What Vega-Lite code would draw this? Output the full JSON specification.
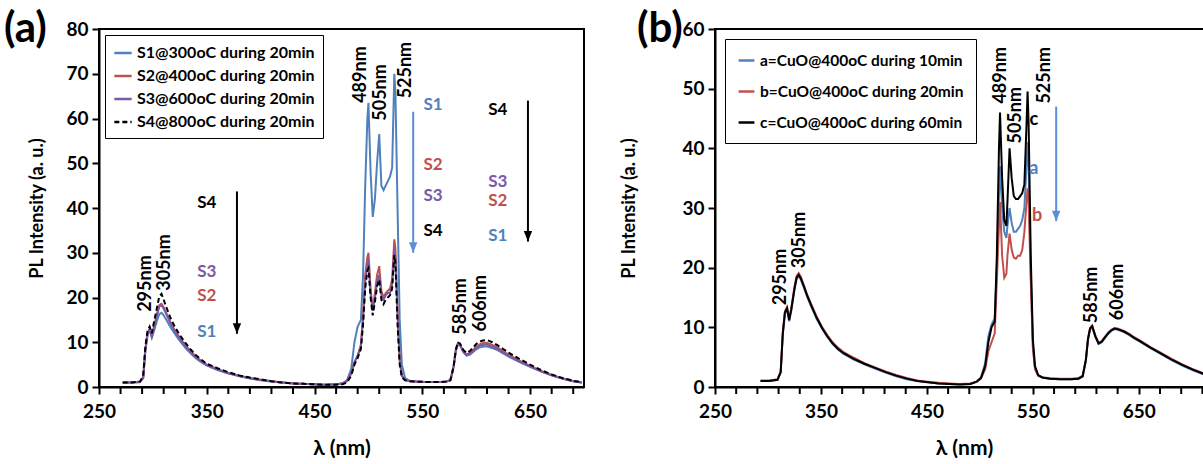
{
"$schema":"https://vega.github.io/schema/vega-lite/v6.json",
"padding":{"left":3,"top":7,"right":0,"bottom":2},
"background":"white",
"spacing":32,
"resolve":{"scale":{"color":"independent","strokeDash":"independent"},"legend":{"color":"independent","strokeDash":"independent"}},
"config":{
 "font":"Lato",
 "view":{"stroke":"black","strokeWidth":2},
 "axis":{"grid":false,"domainColor":"black","domainWidth":2,"tickColor":"black","tickWidth":2,"tickSize":7,"labelFont":"Lato","labelFontWeight":"bold","labelFontSize":19,"labelColor":"black","titleFont":"Lato","titleFontWeight":"bold","titleFontSize":18,"titleColor":"black","labelOverlap":false,"labelFlush":false},
 "legend":{"symbolType":"stroke","labelFont":"Lato","labelFontWeight":"bold","labelColor":"black","strokeColor":"black","fillColor":"white","symbolStrokeWidth":2.5,"labelLimit":400},
 "title":{"font":"Lato","fontWeight":"bold","color":"black","fontSize":42}
},
"datasets":{
"specA":[
{"series":"S1","nm":272,"pl":1.0},{"series":"S1","nm":280,"pl":1.0},{"series":"S1","nm":288,"pl":1.1},{"series":"S1","nm":291,"pl":2.0},{"series":"S1","nm":293,"pl":8.0},{"series":"S1","nm":295,"pl":11.5},{"series":"S1","nm":297,"pl":12.8},{"series":"S1","nm":299,"pl":11.0},{"series":"S1","nm":301,"pl":12.5},{"series":"S1","nm":304,"pl":15.0},
{"series":"S1","nm":306,"pl":16.3},{"series":"S1","nm":308,"pl":16.6},{"series":"S1","nm":310,"pl":16.0},{"series":"S1","nm":313,"pl":14.8},{"series":"S1","nm":316,"pl":13.5},{"series":"S1","nm":320,"pl":12.0},{"series":"S1","nm":325,"pl":10.3},{"series":"S1","nm":330,"pl":8.8},{"series":"S1","nm":335,"pl":7.5},{"series":"S1","nm":340,"pl":6.4},
{"series":"S1","nm":345,"pl":5.5},{"series":"S1","nm":350,"pl":4.8},{"series":"S1","nm":360,"pl":3.8},{"series":"S1","nm":370,"pl":3.0},{"series":"S1","nm":380,"pl":2.4},{"series":"S1","nm":390,"pl":1.9},{"series":"S1","nm":400,"pl":1.5},{"series":"S1","nm":410,"pl":1.2},{"series":"S1","nm":420,"pl":1.0},{"series":"S1","nm":430,"pl":0.8},
{"series":"S1","nm":440,"pl":0.7},{"series":"S1","nm":450,"pl":0.6},{"series":"S1","nm":460,"pl":0.5},{"series":"S1","nm":470,"pl":0.6},{"series":"S1","nm":476,"pl":0.8},{"series":"S1","nm":480,"pl":1.5},{"series":"S1","nm":484,"pl":4.0},{"series":"S1","nm":487,"pl":10.0},{"series":"S1","nm":490,"pl":13.5},{"series":"S1","nm":493,"pl":15.0},
{"series":"S1","nm":495,"pl":25},{"series":"S1","nm":497,"pl":45},{"series":"S1","nm":499,"pl":60},{"series":"S1","nm":500,"pl":63.5},{"series":"S1","nm":502,"pl":48},{"series":"S1","nm":504,"pl":38},{"series":"S1","nm":506,"pl":42},{"series":"S1","nm":508,"pl":50},{"series":"S1","nm":510,"pl":56.5},{"series":"S1","nm":512,"pl":45},
{"series":"S1","nm":514,"pl":44},{"series":"S1","nm":516,"pl":45},{"series":"S1","nm":518,"pl":46},{"series":"S1","nm":520,"pl":47},{"series":"S1","nm":522,"pl":49},{"series":"S1","nm":524,"pl":70},{"series":"S1","nm":525,"pl":66},{"series":"S1","nm":527,"pl":40},{"series":"S1","nm":529,"pl":15},{"series":"S1","nm":531,"pl":5},
{"series":"S1","nm":534,"pl":2.0},{"series":"S1","nm":538,"pl":1.4},{"series":"S1","nm":545,"pl":1.2},{"series":"S1","nm":555,"pl":1.1},{"series":"S1","nm":565,"pl":1.1},{"series":"S1","nm":572,"pl":1.2},{"series":"S1","nm":576,"pl":1.5},{"series":"S1","nm":579,"pl":4.5},{"series":"S1","nm":581,"pl":8.0},{"series":"S1","nm":583,"pl":9.6},
{"series":"S1","nm":585,"pl":9.3},{"series":"S1","nm":588,"pl":7.8},{"series":"S1","nm":591,"pl":7.0},{"series":"S1","nm":594,"pl":7.2},{"series":"S1","nm":597,"pl":7.8},{"series":"S1","nm":600,"pl":8.4},{"series":"S1","nm":603,"pl":8.8},{"series":"S1","nm":606,"pl":9.0},{"series":"S1","nm":609,"pl":9.1},{"series":"S1","nm":612,"pl":8.9},
{"series":"S1","nm":615,"pl":8.7},{"series":"S1","nm":620,"pl":8.2},{"series":"S1","nm":625,"pl":7.5},{"series":"S1","nm":630,"pl":6.8},{"series":"S1","nm":640,"pl":5.6},{"series":"S1","nm":650,"pl":4.5},{"series":"S1","nm":660,"pl":3.5},{"series":"S1","nm":670,"pl":2.6},{"series":"S1","nm":680,"pl":1.9},{"series":"S1","nm":690,"pl":1.3},
{"series":"S1","nm":698,"pl":1.0},
{"series":"S2","nm":272,"pl":1.0},{"series":"S2","nm":280,"pl":1.0},{"series":"S2","nm":288,"pl":1.2},{"series":"S2","nm":291,"pl":2.2},{"series":"S2","nm":293,"pl":8.5},{"series":"S2","nm":295,"pl":12.0},{"series":"S2","nm":297,"pl":13.0},{"series":"S2","nm":299,"pl":11.5},{"series":"S2","nm":301,"pl":13.5},{"series":"S2","nm":304,"pl":16.5},
{"series":"S2","nm":306,"pl":18.3},{"series":"S2","nm":308,"pl":18.6},{"series":"S2","nm":310,"pl":17.8},{"series":"S2","nm":313,"pl":16.2},{"series":"S2","nm":316,"pl":14.6},{"series":"S2","nm":320,"pl":12.8},{"series":"S2","nm":325,"pl":11.0},{"series":"S2","nm":330,"pl":9.4},{"series":"S2","nm":335,"pl":8.0},{"series":"S2","nm":340,"pl":6.8},
{"series":"S2","nm":345,"pl":5.8},{"series":"S2","nm":350,"pl":5.0},{"series":"S2","nm":360,"pl":4.0},{"series":"S2","nm":370,"pl":3.1},{"series":"S2","nm":380,"pl":2.5},{"series":"S2","nm":390,"pl":2.0},{"series":"S2","nm":400,"pl":1.6},{"series":"S2","nm":410,"pl":1.3},{"series":"S2","nm":420,"pl":1.0},{"series":"S2","nm":430,"pl":0.8},
{"series":"S2","nm":440,"pl":0.7},{"series":"S2","nm":450,"pl":0.6},{"series":"S2","nm":460,"pl":0.5},{"series":"S2","nm":470,"pl":0.6},{"series":"S2","nm":476,"pl":0.8},{"series":"S2","nm":480,"pl":1.3},{"series":"S2","nm":484,"pl":3.0},{"series":"S2","nm":487,"pl":5.5},{"series":"S2","nm":490,"pl":7.0},{"series":"S2","nm":493,"pl":9.5},
{"series":"S2","nm":495,"pl":16},{"series":"S2","nm":497,"pl":25},{"series":"S2","nm":499,"pl":29},{"series":"S2","nm":500,"pl":30},{"series":"S2","nm":502,"pl":22},{"series":"S2","nm":504,"pl":17},{"series":"S2","nm":506,"pl":21},{"series":"S2","nm":508,"pl":25},{"series":"S2","nm":510,"pl":27},{"series":"S2","nm":512,"pl":21.5},
{"series":"S2","nm":514,"pl":20},{"series":"S2","nm":516,"pl":21},{"series":"S2","nm":518,"pl":21.5},{"series":"S2","nm":520,"pl":22},{"series":"S2","nm":522,"pl":24},{"series":"S2","nm":524,"pl":33},{"series":"S2","nm":525,"pl":31},{"series":"S2","nm":527,"pl":17},{"series":"S2","nm":529,"pl":6},{"series":"S2","nm":531,"pl":2.5},
{"series":"S2","nm":534,"pl":1.6},{"series":"S2","nm":538,"pl":1.3},{"series":"S2","nm":545,"pl":1.2},{"series":"S2","nm":555,"pl":1.1},{"series":"S2","nm":565,"pl":1.1},{"series":"S2","nm":572,"pl":1.2},{"series":"S2","nm":576,"pl":1.5},{"series":"S2","nm":579,"pl":4.5},{"series":"S2","nm":581,"pl":8.2},{"series":"S2","nm":583,"pl":9.8},
{"series":"S2","nm":585,"pl":9.5},{"series":"S2","nm":588,"pl":8.0},{"series":"S2","nm":591,"pl":7.3},{"series":"S2","nm":594,"pl":7.6},{"series":"S2","nm":597,"pl":8.3},{"series":"S2","nm":600,"pl":9.0},{"series":"S2","nm":603,"pl":9.5},{"series":"S2","nm":606,"pl":9.8},{"series":"S2","nm":609,"pl":9.9},{"series":"S2","nm":612,"pl":9.7},
{"series":"S2","nm":615,"pl":9.4},{"series":"S2","nm":620,"pl":8.8},{"series":"S2","nm":625,"pl":8.0},{"series":"S2","nm":630,"pl":7.2},{"series":"S2","nm":640,"pl":5.9},{"series":"S2","nm":650,"pl":4.7},{"series":"S2","nm":660,"pl":3.6},{"series":"S2","nm":670,"pl":2.7},{"series":"S2","nm":680,"pl":1.9},{"series":"S2","nm":690,"pl":1.3},
{"series":"S2","nm":698,"pl":1.0},
{"series":"S3","nm":272,"pl":1.0},{"series":"S3","nm":280,"pl":1.0},{"series":"S3","nm":288,"pl":1.1},{"series":"S3","nm":291,"pl":2.0},{"series":"S3","nm":293,"pl":8.2},{"series":"S3","nm":295,"pl":11.8},{"series":"S3","nm":297,"pl":12.9},{"series":"S3","nm":299,"pl":11.3},{"series":"S3","nm":301,"pl":13.2},{"series":"S3","nm":304,"pl":16.2},
{"series":"S3","nm":306,"pl":18.0},{"series":"S3","nm":308,"pl":18.3},{"series":"S3","nm":310,"pl":17.5},{"series":"S3","nm":313,"pl":16.0},{"series":"S3","nm":316,"pl":14.4},{"series":"S3","nm":320,"pl":12.6},{"series":"S3","nm":325,"pl":10.8},{"series":"S3","nm":330,"pl":9.2},{"series":"S3","nm":335,"pl":7.8},{"series":"S3","nm":340,"pl":6.6},
{"series":"S3","nm":345,"pl":5.7},{"series":"S3","nm":350,"pl":4.9},{"series":"S3","nm":360,"pl":3.9},{"series":"S3","nm":370,"pl":3.1},{"series":"S3","nm":380,"pl":2.5},{"series":"S3","nm":390,"pl":2.0},{"series":"S3","nm":400,"pl":1.6},{"series":"S3","nm":410,"pl":1.3},{"series":"S3","nm":420,"pl":1.0},{"series":"S3","nm":430,"pl":0.8},
{"series":"S3","nm":440,"pl":0.7},{"series":"S3","nm":450,"pl":0.6},{"series":"S3","nm":460,"pl":0.5},{"series":"S3","nm":470,"pl":0.6},{"series":"S3","nm":476,"pl":0.8},{"series":"S3","nm":480,"pl":1.3},{"series":"S3","nm":484,"pl":3.0},{"series":"S3","nm":487,"pl":5.5},{"series":"S3","nm":490,"pl":7.0},{"series":"S3","nm":493,"pl":9.0},
{"series":"S3","nm":495,"pl":15},{"series":"S3","nm":497,"pl":23.5},{"series":"S3","nm":499,"pl":27.5},{"series":"S3","nm":500,"pl":28},{"series":"S3","nm":502,"pl":21},{"series":"S3","nm":504,"pl":17},{"series":"S3","nm":506,"pl":20},{"series":"S3","nm":508,"pl":23.5},{"series":"S3","nm":510,"pl":25},{"series":"S3","nm":512,"pl":20.5},
{"series":"S3","nm":514,"pl":19.5},{"series":"S3","nm":516,"pl":20.5},{"series":"S3","nm":518,"pl":21},{"series":"S3","nm":520,"pl":21},{"series":"S3","nm":522,"pl":23},{"series":"S3","nm":524,"pl":31},{"series":"S3","nm":525,"pl":29},{"series":"S3","nm":527,"pl":16},{"series":"S3","nm":529,"pl":6},{"series":"S3","nm":531,"pl":2.5},
{"series":"S3","nm":534,"pl":1.6},{"series":"S3","nm":538,"pl":1.3},{"series":"S3","nm":545,"pl":1.2},{"series":"S3","nm":555,"pl":1.1},{"series":"S3","nm":565,"pl":1.1},{"series":"S3","nm":572,"pl":1.2},{"series":"S3","nm":576,"pl":1.5},{"series":"S3","nm":579,"pl":4.5},{"series":"S3","nm":581,"pl":8.0},{"series":"S3","nm":583,"pl":9.7},
{"series":"S3","nm":585,"pl":9.4},{"series":"S3","nm":588,"pl":7.9},{"series":"S3","nm":591,"pl":7.1},{"series":"S3","nm":594,"pl":7.4},{"series":"S3","nm":597,"pl":8.0},{"series":"S3","nm":600,"pl":8.7},{"series":"S3","nm":603,"pl":9.2},{"series":"S3","nm":606,"pl":9.4},{"series":"S3","nm":609,"pl":9.5},{"series":"S3","nm":612,"pl":9.3},
{"series":"S3","nm":615,"pl":9.0},{"series":"S3","nm":620,"pl":8.5},{"series":"S3","nm":625,"pl":7.7},{"series":"S3","nm":630,"pl":7.0},{"series":"S3","nm":640,"pl":5.7},{"series":"S3","nm":650,"pl":4.6},{"series":"S3","nm":660,"pl":3.5},{"series":"S3","nm":670,"pl":2.6},{"series":"S3","nm":680,"pl":1.9},{"series":"S3","nm":690,"pl":1.3},
{"series":"S3","nm":698,"pl":1.0},
{"series":"S4","nm":272,"pl":1.0},{"series":"S4","nm":280,"pl":1.0},{"series":"S4","nm":288,"pl":1.2},{"series":"S4","nm":291,"pl":2.5},{"series":"S4","nm":293,"pl":9.0},{"series":"S4","nm":295,"pl":12.5},{"series":"S4","nm":297,"pl":13.5},{"series":"S4","nm":299,"pl":12.0},{"series":"S4","nm":301,"pl":14.5},{"series":"S4","nm":304,"pl":18.0},
{"series":"S4","nm":306,"pl":20.3},{"series":"S4","nm":308,"pl":20.8},{"series":"S4","nm":310,"pl":19.5},{"series":"S4","nm":313,"pl":17.5},{"series":"S4","nm":316,"pl":15.6},{"series":"S4","nm":320,"pl":13.6},{"series":"S4","nm":325,"pl":11.6},{"series":"S4","nm":330,"pl":9.9},{"series":"S4","nm":335,"pl":8.4},{"series":"S4","nm":340,"pl":7.1},
{"series":"S4","nm":345,"pl":6.1},{"series":"S4","nm":350,"pl":5.2},{"series":"S4","nm":360,"pl":4.2},{"series":"S4","nm":370,"pl":3.3},{"series":"S4","nm":380,"pl":2.6},{"series":"S4","nm":390,"pl":2.1},{"series":"S4","nm":400,"pl":1.7},{"series":"S4","nm":410,"pl":1.3},{"series":"S4","nm":420,"pl":1.0},{"series":"S4","nm":430,"pl":0.8},
{"series":"S4","nm":440,"pl":0.7},{"series":"S4","nm":450,"pl":0.6},{"series":"S4","nm":460,"pl":0.5},{"series":"S4","nm":470,"pl":0.5},{"series":"S4","nm":476,"pl":0.6},{"series":"S4","nm":480,"pl":1.0},{"series":"S4","nm":484,"pl":2.5},{"series":"S4","nm":487,"pl":5.0},{"series":"S4","nm":490,"pl":6.5},{"series":"S4","nm":493,"pl":8.5},
{"series":"S4","nm":495,"pl":14},{"series":"S4","nm":497,"pl":22},{"series":"S4","nm":499,"pl":26},{"series":"S4","nm":500,"pl":26.5},{"series":"S4","nm":502,"pl":20},{"series":"S4","nm":504,"pl":16},{"series":"S4","nm":506,"pl":19},{"series":"S4","nm":508,"pl":22.5},{"series":"S4","nm":510,"pl":24},{"series":"S4","nm":512,"pl":19.5},
{"series":"S4","nm":514,"pl":18.5},{"series":"S4","nm":516,"pl":19.5},{"series":"S4","nm":518,"pl":20},{"series":"S4","nm":520,"pl":20.5},{"series":"S4","nm":522,"pl":22},{"series":"S4","nm":524,"pl":29.5},{"series":"S4","nm":525,"pl":28},{"series":"S4","nm":527,"pl":14},{"series":"S4","nm":529,"pl":5},{"series":"S4","nm":531,"pl":2.2},
{"series":"S4","nm":534,"pl":1.5},{"series":"S4","nm":538,"pl":1.3},{"series":"S4","nm":545,"pl":1.2},{"series":"S4","nm":555,"pl":1.1},{"series":"S4","nm":565,"pl":1.1},{"series":"S4","nm":572,"pl":1.2},{"series":"S4","nm":576,"pl":1.5},{"series":"S4","nm":579,"pl":4.5},{"series":"S4","nm":581,"pl":8.3},{"series":"S4","nm":583,"pl":10.0},
{"series":"S4","nm":585,"pl":9.7},{"series":"S4","nm":588,"pl":8.3},{"series":"S4","nm":591,"pl":7.6},{"series":"S4","nm":594,"pl":8.0},{"series":"S4","nm":597,"pl":8.8},{"series":"S4","nm":600,"pl":9.6},{"series":"S4","nm":603,"pl":10.1},{"series":"S4","nm":606,"pl":10.4},{"series":"S4","nm":609,"pl":10.5},{"series":"S4","nm":612,"pl":10.3},
{"series":"S4","nm":615,"pl":10.0},{"series":"S4","nm":620,"pl":9.3},{"series":"S4","nm":625,"pl":8.5},{"series":"S4","nm":630,"pl":7.7},{"series":"S4","nm":640,"pl":6.3},{"series":"S4","nm":650,"pl":5.0},{"series":"S4","nm":660,"pl":3.8},{"series":"S4","nm":670,"pl":2.8},{"series":"S4","nm":680,"pl":2.0},{"series":"S4","nm":690,"pl":1.4},
{"series":"S4","nm":698,"pl":1.1}
],
"specB":[
{"series":"a","nm":293,"pl":1.0},{"series":"a","nm":301,"pl":1.0},{"series":"a","nm":309,"pl":1.2},{"series":"a","nm":312,"pl":2.4},{"series":"a","nm":314,"pl":8.8},{"series":"a","nm":316,"pl":12.3},{"series":"a","nm":318,"pl":13.0},{"series":"a","nm":320,"pl":11.0},{"series":"a","nm":322,"pl":12.8},{"series":"a","nm":325,"pl":16.3},
{"series":"a","nm":327,"pl":18.1},{"series":"a","nm":329,"pl":18.6},{"series":"a","nm":331,"pl":18.0},{"series":"a","nm":334,"pl":16.6},{"series":"a","nm":337,"pl":15.1},{"series":"a","nm":341,"pl":13.4},{"series":"a","nm":346,"pl":11.4},{"series":"a","nm":351,"pl":9.8},{"series":"a","nm":356,"pl":8.4},{"series":"a","nm":361,"pl":7.2},
{"series":"a","nm":366,"pl":6.3},{"series":"a","nm":371,"pl":5.6},{"series":"a","nm":381,"pl":4.6},{"series":"a","nm":391,"pl":3.8},{"series":"a","nm":401,"pl":3.1},{"series":"a","nm":411,"pl":2.4},{"series":"a","nm":421,"pl":1.8},{"series":"a","nm":431,"pl":1.3},{"series":"a","nm":441,"pl":1.0},{"series":"a","nm":451,"pl":0.8},
{"series":"a","nm":461,"pl":0.6},{"series":"a","nm":471,"pl":0.5},{"series":"a","nm":481,"pl":0.4},{"series":"a","nm":491,"pl":0.5},{"series":"a","nm":497,"pl":0.9},{"series":"a","nm":501,"pl":1.6},{"series":"a","nm":505,"pl":4.0},{"series":"a","nm":508,"pl":8.5},{"series":"a","nm":511,"pl":10.5},{"series":"a","nm":514,"pl":11.5},
{"series":"a","nm":516,"pl":20},{"series":"a","nm":518,"pl":32},{"series":"a","nm":519,"pl":37},{"series":"a","nm":521,"pl":30},{"series":"a","nm":523,"pl":26},{"series":"a","nm":525,"pl":25},{"series":"a","nm":526,"pl":27},{"series":"a","nm":528,"pl":30},{"series":"a","nm":530,"pl":27.5},{"series":"a","nm":532,"pl":26},
{"series":"a","nm":534,"pl":26},{"series":"a","nm":536,"pl":26.5},{"series":"a","nm":538,"pl":27},{"series":"a","nm":540,"pl":28},{"series":"a","nm":542,"pl":30},{"series":"a","nm":544,"pl":37},{"series":"a","nm":545,"pl":41},{"series":"a","nm":546,"pl":37},{"series":"a","nm":548,"pl":19},{"series":"a","nm":550,"pl":7},
{"series":"a","nm":552,"pl":3.2},{"series":"a","nm":555,"pl":1.9},{"series":"a","nm":559,"pl":1.6},{"series":"a","nm":566,"pl":1.4},{"series":"a","nm":576,"pl":1.3},{"series":"a","nm":586,"pl":1.3},{"series":"a","nm":593,"pl":1.4},{"series":"a","nm":597,"pl":1.8},{"series":"a","nm":600,"pl":4.4},{"series":"a","nm":602,"pl":7.9},
{"series":"a","nm":604,"pl":9.7},{"series":"a","nm":606,"pl":10.0},{"series":"a","nm":609,"pl":8.4},{"series":"a","nm":612,"pl":7.2},{"series":"a","nm":615,"pl":7.5},{"series":"a","nm":618,"pl":8.2},{"series":"a","nm":621,"pl":8.9},{"series":"a","nm":624,"pl":9.4},{"series":"a","nm":627,"pl":9.7},{"series":"a","nm":630,"pl":9.6},
{"series":"a","nm":633,"pl":9.4},{"series":"a","nm":636,"pl":9.2},{"series":"a","nm":641,"pl":8.7},{"series":"a","nm":646,"pl":8.1},{"series":"a","nm":651,"pl":7.6},{"series":"a","nm":661,"pl":6.5},{"series":"a","nm":671,"pl":5.5},{"series":"a","nm":681,"pl":4.5},{"series":"a","nm":691,"pl":3.6},{"series":"a","nm":701,"pl":2.8},
{"series":"a","nm":711,"pl":2.1},{"series":"a","nm":718,"pl":1.7},
{"series":"b","nm":293,"pl":1.1},{"series":"b","nm":301,"pl":1.1},{"series":"b","nm":309,"pl":1.3},{"series":"b","nm":312,"pl":2.6},{"series":"b","nm":314,"pl":9.2},{"series":"b","nm":316,"pl":12.7},{"series":"b","nm":318,"pl":13.4},{"series":"b","nm":320,"pl":11.4},{"series":"b","nm":322,"pl":13.2},{"series":"b","nm":325,"pl":16.8},
{"series":"b","nm":327,"pl":18.6},{"series":"b","nm":329,"pl":19.1},{"series":"b","nm":331,"pl":18.5},{"series":"b","nm":334,"pl":17.0},{"series":"b","nm":337,"pl":15.5},{"series":"b","nm":341,"pl":13.8},{"series":"b","nm":346,"pl":11.8},{"series":"b","nm":351,"pl":10.1},{"series":"b","nm":356,"pl":8.7},{"series":"b","nm":361,"pl":7.5},
{"series":"b","nm":366,"pl":6.6},{"series":"b","nm":371,"pl":5.9},{"series":"b","nm":381,"pl":4.9},{"series":"b","nm":391,"pl":4.0},{"series":"b","nm":401,"pl":3.3},{"series":"b","nm":411,"pl":2.6},{"series":"b","nm":421,"pl":2.0},{"series":"b","nm":431,"pl":1.5},{"series":"b","nm":441,"pl":1.1},{"series":"b","nm":451,"pl":0.9},
{"series":"b","nm":461,"pl":0.7},{"series":"b","nm":471,"pl":0.6},{"series":"b","nm":481,"pl":0.5},{"series":"b","nm":491,"pl":0.6},{"series":"b","nm":497,"pl":0.9},{"series":"b","nm":501,"pl":1.4},{"series":"b","nm":505,"pl":3.0},{"series":"b","nm":508,"pl":6.0},{"series":"b","nm":511,"pl":7.5},{"series":"b","nm":514,"pl":9.0},
{"series":"b","nm":516,"pl":18},{"series":"b","nm":518,"pl":27},{"series":"b","nm":519,"pl":31},{"series":"b","nm":521,"pl":22},{"series":"b","nm":523,"pl":18.3},{"series":"b","nm":525,"pl":19},{"series":"b","nm":526,"pl":22},{"series":"b","nm":528,"pl":25.7},{"series":"b","nm":530,"pl":23},{"series":"b","nm":532,"pl":21.7},
{"series":"b","nm":534,"pl":21.5},{"series":"b","nm":536,"pl":22},{"series":"b","nm":538,"pl":22},{"series":"b","nm":540,"pl":23},{"series":"b","nm":542,"pl":26},{"series":"b","nm":544,"pl":31},{"series":"b","nm":545,"pl":33.3},{"series":"b","nm":546,"pl":31},{"series":"b","nm":548,"pl":18},{"series":"b","nm":550,"pl":6.5},
{"series":"b","nm":552,"pl":3.0},{"series":"b","nm":555,"pl":1.9},{"series":"b","nm":559,"pl":1.6},{"series":"b","nm":566,"pl":1.5},{"series":"b","nm":576,"pl":1.4},{"series":"b","nm":586,"pl":1.4},{"series":"b","nm":593,"pl":1.5},{"series":"b","nm":597,"pl":1.9},{"series":"b","nm":600,"pl":4.6},{"series":"b","nm":602,"pl":8.1},
{"series":"b","nm":604,"pl":9.9},{"series":"b","nm":606,"pl":10.3},{"series":"b","nm":609,"pl":8.6},{"series":"b","nm":612,"pl":7.4},{"series":"b","nm":615,"pl":7.7},{"series":"b","nm":618,"pl":8.4},{"series":"b","nm":621,"pl":9.1},{"series":"b","nm":624,"pl":9.6},{"series":"b","nm":627,"pl":9.9},{"series":"b","nm":630,"pl":9.8},
{"series":"b","nm":633,"pl":9.6},{"series":"b","nm":636,"pl":9.4},{"series":"b","nm":641,"pl":8.9},{"series":"b","nm":646,"pl":8.3},{"series":"b","nm":651,"pl":7.8},{"series":"b","nm":661,"pl":6.7},{"series":"b","nm":671,"pl":5.7},{"series":"b","nm":681,"pl":4.7},{"series":"b","nm":691,"pl":3.8},{"series":"b","nm":701,"pl":3.0},
{"series":"b","nm":711,"pl":2.3},{"series":"b","nm":718,"pl":1.9},
{"series":"c","nm":293,"pl":1.0},{"series":"c","nm":301,"pl":1.0},{"series":"c","nm":309,"pl":1.2},{"series":"c","nm":312,"pl":2.5},{"series":"c","nm":314,"pl":9.0},{"series":"c","nm":316,"pl":12.5},{"series":"c","nm":318,"pl":13.2},{"series":"c","nm":320,"pl":11.2},{"series":"c","nm":322,"pl":13.0},{"series":"c","nm":325,"pl":16.5},
{"series":"c","nm":327,"pl":18.3},{"series":"c","nm":329,"pl":18.8},{"series":"c","nm":331,"pl":18.2},{"series":"c","nm":334,"pl":16.8},{"series":"c","nm":337,"pl":15.3},{"series":"c","nm":341,"pl":13.6},{"series":"c","nm":346,"pl":11.6},{"series":"c","nm":351,"pl":9.9},{"series":"c","nm":356,"pl":8.5},{"series":"c","nm":361,"pl":7.3},
{"series":"c","nm":366,"pl":6.4},{"series":"c","nm":371,"pl":5.7},{"series":"c","nm":381,"pl":4.7},{"series":"c","nm":391,"pl":3.9},{"series":"c","nm":401,"pl":3.2},{"series":"c","nm":411,"pl":2.5},{"series":"c","nm":421,"pl":1.9},{"series":"c","nm":431,"pl":1.4},{"series":"c","nm":441,"pl":1.0},{"series":"c","nm":451,"pl":0.8},
{"series":"c","nm":461,"pl":0.6},{"series":"c","nm":471,"pl":0.5},{"series":"c","nm":481,"pl":0.4},{"series":"c","nm":491,"pl":0.5},{"series":"c","nm":497,"pl":0.9},{"series":"c","nm":501,"pl":1.5},{"series":"c","nm":505,"pl":3.5},{"series":"c","nm":508,"pl":7.5},{"series":"c","nm":511,"pl":10.0},{"series":"c","nm":514,"pl":11.0},
{"series":"c","nm":516,"pl":22},{"series":"c","nm":518,"pl":40},{"series":"c","nm":519,"pl":46},{"series":"c","nm":521,"pl":35},{"series":"c","nm":523,"pl":28},{"series":"c","nm":525,"pl":27},{"series":"c","nm":526,"pl":31},{"series":"c","nm":528,"pl":40},{"series":"c","nm":530,"pl":35},{"series":"c","nm":532,"pl":32},
{"series":"c","nm":534,"pl":31.5},{"series":"c","nm":536,"pl":31.5},{"series":"c","nm":538,"pl":32},{"series":"c","nm":540,"pl":32.5},{"series":"c","nm":542,"pl":34},{"series":"c","nm":544,"pl":44},{"series":"c","nm":545,"pl":49.5},{"series":"c","nm":546,"pl":44},{"series":"c","nm":548,"pl":22},{"series":"c","nm":550,"pl":8},
{"series":"c","nm":552,"pl":3.5},{"series":"c","nm":555,"pl":2.0},{"series":"c","nm":559,"pl":1.6},{"series":"c","nm":566,"pl":1.4},{"series":"c","nm":576,"pl":1.3},{"series":"c","nm":586,"pl":1.3},{"series":"c","nm":593,"pl":1.4},{"series":"c","nm":597,"pl":1.8},{"series":"c","nm":600,"pl":4.5},{"series":"c","nm":602,"pl":8.0},
{"series":"c","nm":604,"pl":9.8},{"series":"c","nm":606,"pl":10.2},{"series":"c","nm":609,"pl":8.5},{"series":"c","nm":612,"pl":7.3},{"series":"c","nm":615,"pl":7.6},{"series":"c","nm":618,"pl":8.3},{"series":"c","nm":621,"pl":9.0},{"series":"c","nm":624,"pl":9.5},{"series":"c","nm":627,"pl":9.8},{"series":"c","nm":630,"pl":9.7},
{"series":"c","nm":633,"pl":9.5},{"series":"c","nm":636,"pl":9.3},{"series":"c","nm":641,"pl":8.8},{"series":"c","nm":646,"pl":8.2},{"series":"c","nm":651,"pl":7.7},{"series":"c","nm":661,"pl":6.6},{"series":"c","nm":671,"pl":5.6},{"series":"c","nm":681,"pl":4.6},{"series":"c","nm":691,"pl":3.7},{"series":"c","nm":701,"pl":2.9},
{"series":"c","nm":711,"pl":2.2},{"series":"c","nm":718,"pl":1.8}
],
"peakA":[
{"nm":294,"pl":16.8,"label":"295nm"},{"nm":311,"pl":21.5,"label":"305nm"},{"nm":493,"pl":63.5,"label":"489nm"},{"nm":512,"pl":59.5,"label":"505nm"},{"nm":535,"pl":64.5,"label":"525nm"},{"nm":586,"pl":11.7,"label":"585nm"},{"nm":604,"pl":12.4,"label":"606nm"}
],
"tagsA":[
{"series":"S1","nm":560,"pl":63},{"series":"S2","nm":560,"pl":49.6},{"series":"S3","nm":560,"pl":42.6},{"series":"S4","nm":560,"pl":34.8},
{"series":"S4","nm":620,"pl":61.9},{"series":"S3","nm":620,"pl":45.9},{"series":"S2","nm":620,"pl":41.5},{"series":"S1","nm":620,"pl":33.7},
{"series":"S4","nm":350,"pl":41.1},{"series":"S3","nm":350,"pl":25.6},{"series":"S2","nm":350,"pl":20.4},{"series":"S1","nm":350,"pl":12.2}
],
"arrowsA":[
{"kind":"black","nm":378,"top":43.7,"bottom":11.9},{"kind":"blue","nm":541.5,"top":61.5,"bottom":30},{"kind":"black","nm":648,"top":64,"bottom":32.5}
],
"minorA":[
{"nm":270,"pl":0},{"nm":290,"pl":0},{"nm":310,"pl":0},{"nm":330,"pl":0},{"nm":370,"pl":0},{"nm":390,"pl":0},{"nm":410,"pl":0},{"nm":430,"pl":0},{"nm":470,"pl":0},{"nm":490,"pl":0},{"nm":510,"pl":0},{"nm":530,"pl":0},{"nm":570,"pl":0},{"nm":590,"pl":0},{"nm":610,"pl":0},{"nm":630,"pl":0},{"nm":670,"pl":0},{"nm":690,"pl":0}
],
"minorB":[
{"nm":270,"pl":0},{"nm":290,"pl":0},{"nm":310,"pl":0},{"nm":330,"pl":0},{"nm":370,"pl":0},{"nm":390,"pl":0},{"nm":410,"pl":0},{"nm":430,"pl":0},{"nm":470,"pl":0},{"nm":490,"pl":0},{"nm":510,"pl":0},{"nm":530,"pl":0},{"nm":570,"pl":0},{"nm":590,"pl":0},{"nm":610,"pl":0},{"nm":630,"pl":0},{"nm":670,"pl":0},{"nm":690,"pl":0},{"nm":710,"pl":0}
],
"peakB":[
{"nm":312,"pl":13.7,"label":"295nm"},{"nm":330,"pl":19.9,"label":"305nm"},{"nm":520,"pl":47.5,"label":"489nm"},{"nm":534,"pl":40.8,"label":"505nm"},{"nm":561,"pl":47.5,"label":"525nm"},{"nm":606,"pl":10.7,"label":"585nm"},{"nm":630,"pl":11.2,"label":"606nm"}
],
"tagsB":[
{"series":"c","nm":551,"pl":44.8},{"series":"a","nm":551,"pl":36.5},{"series":"b","nm":554,"pl":28.7}
],
"arrowsB":[
{"kind":"blue","nm":572,"top":47,"bottom":27.8}
]
},
"hconcat":[
{
 "width":485,"height":358,
 "title":{"text":"(a)","anchor":"start","frame":"group","offset":-31,"dx":-95},
 "layer":[
  {"data":{"name":"specA"},"mark":{"type":"line","strokeWidth":2},
   "encoding":{
    "x":{"field":"nm","type":"quantitative","scale":{"domain":[250,700],"nice":false,"zero":false},
         "axis":{"title":"λ (nm)","titleFontSize":21,"labelOverlap":false,"labelFlush":false,"values":[250,350,450,550,650],"labelPadding":8,"titlePadding":16}},
    "y":{"field":"pl","type":"quantitative","scale":{"domain":[0,80],"nice":false},
         "axis":{"title":"PL Intensity (a. u.)","values":[0,10,20,30,40,50,60,70,80],"labelPadding":4,"titlePadding":19}},
    "color":{"field":"series","type":"nominal","scale":{"domain":["S1","S2","S3","S4"],"range":["#4F81BD","#C0504D","#7A5AA6","#000000"]},
         "legend":{"orient":"top-left","offset":6,"title":null,"padding":8,"rowPadding":5,"labelFontSize":16,"symbolSize":300,
                   "labelExpr":"datum.label == 'S1' ? 'S1@300oC during 20min' : datum.label == 'S2' ? 'S2@400oC during 20min' : datum.label == 'S3' ? 'S3@600oC during 20min' : 'S4@800oC during 20min'"}},
    "strokeDash":{"field":"series","type":"nominal","scale":{"domain":["S1","S2","S3","S4"],"range":[[1,0],[1,0],[1,0],[5,3]]}}
   }},
  {"data":{"name":"minorA"},"mark":{"type":"tick","orient":"vertical","size":7,"thickness":2,"color":"black","yOffset":3.5,"opacity":1},
   "encoding":{"x":{"field":"nm","type":"quantitative"},"y":{"field":"pl","type":"quantitative"}}},
  {"data":{"name":"peakA"},"mark":{"type":"text","angle":270,"align":"left","baseline":"middle","fontSize":18,"fontWeight":"bold","color":"black"},
   "encoding":{"x":{"field":"nm","type":"quantitative"},"y":{"field":"pl","type":"quantitative"},"text":{"field":"label"}}},
  {"data":{"name":"tagsA"},"mark":{"type":"text","align":"center","baseline":"middle","fontSize":17,"fontWeight":"bold"},
   "encoding":{"x":{"field":"nm","type":"quantitative"},"y":{"field":"pl","type":"quantitative"},"text":{"field":"series"},"color":{"field":"series","type":"nominal","legend":null}}},
  {"data":{"name":"arrowsA"},"transform":[{"filter":"datum.kind == 'black'"}],"mark":{"type":"rule","strokeWidth":2,"color":"black"},
   "encoding":{"x":{"field":"nm","type":"quantitative"},"y":{"field":"top","type":"quantitative"},"y2":{"field":"bottom"}}},
  {"data":{"name":"arrowsA"},"transform":[{"filter":"datum.kind == 'black'"}],"mark":{"type":"point","shape":"M0,0L-0.8,-2L0.8,-2Z","filled":true,"size":110,"color":"black","opacity":1},
   "encoding":{"x":{"field":"nm","type":"quantitative"},"y":{"field":"bottom","type":"quantitative"}}},
  {"data":{"name":"arrowsA"},"transform":[{"filter":"datum.kind == 'blue'"}],"mark":{"type":"rule","strokeWidth":2,"color":"#5B8ED6"},
   "encoding":{"x":{"field":"nm","type":"quantitative"},"y":{"field":"top","type":"quantitative"},"y2":{"field":"bottom"}}},
  {"data":{"name":"arrowsA"},"transform":[{"filter":"datum.kind == 'blue'"}],"mark":{"type":"point","shape":"M0,0L-0.8,-2L0.8,-2Z","filled":true,"size":110,"color":"#5B8ED6","opacity":1},
   "encoding":{"x":{"field":"nm","type":"quantitative"},"y":{"field":"bottom","type":"quantitative"}}}
 ]
},
{
 "width":498,"height":358,
 "title":{"text":"(b)","anchor":"start","frame":"group","offset":-31,"dx":-78},
 "layer":[
  {"data":{"name":"specB"},"mark":{"type":"line","strokeWidth":2},
   "encoding":{
    "x":{"field":"nm","type":"quantitative","scale":{"domain":[250,720],"nice":false,"zero":false},
         "axis":{"title":"λ (nm)","titleFontSize":21,"labelOverlap":false,"labelFlush":false,"values":[250,350,450,550,650],"labelPadding":8,"titlePadding":16}},
    "y":{"field":"pl","type":"quantitative","scale":{"domain":[0,60],"nice":false},
         "axis":{"title":"PL Intensity (a. u.)","values":[0,10,20,30,40,50,60],"labelPadding":4,"titlePadding":43}},
    "color":{"field":"series","type":"nominal","scale":{"domain":["a","b","c"],"range":["#4F81BD","#C0504D","#000000"]},
         "legend":{"orient":"top-left","offset":10,"title":null,"padding":12,"rowPadding":13,"labelFontSize":15.5,"symbolSize":250,
                   "labelExpr":"datum.label == 'a' ? 'a=CuO@400oC during 10min' : datum.label == 'b' ? 'b=CuO@400oC during 20min' : 'c=CuO@400oC during 60min'"}}
   }},
  {"data":{"name":"minorB"},"mark":{"type":"tick","orient":"vertical","size":7,"thickness":2,"color":"black","yOffset":3.5,"opacity":1},
   "encoding":{"x":{"field":"nm","type":"quantitative"},"y":{"field":"pl","type":"quantitative"}}},
  {"data":{"name":"peakB"},"mark":{"type":"text","angle":270,"align":"left","baseline":"middle","fontSize":18,"fontWeight":"bold","color":"black"},
   "encoding":{"x":{"field":"nm","type":"quantitative"},"y":{"field":"pl","type":"quantitative"},"text":{"field":"label"}}},
  {"data":{"name":"tagsB"},"mark":{"type":"text","align":"center","baseline":"middle","fontSize":18,"fontWeight":"bold"},
   "encoding":{"x":{"field":"nm","type":"quantitative"},"y":{"field":"pl","type":"quantitative"},"text":{"field":"series"},"color":{"field":"series","type":"nominal","legend":null}}},
  {"data":{"name":"arrowsB"},"mark":{"type":"rule","strokeWidth":2,"color":"#5B8ED6"},
   "encoding":{"x":{"field":"nm","type":"quantitative"},"y":{"field":"top","type":"quantitative"},"y2":{"field":"bottom"}}},
  {"data":{"name":"arrowsB"},"mark":{"type":"point","shape":"M0,0L-0.8,-2L0.8,-2Z","filled":true,"size":110,"color":"#5B8ED6","opacity":1},
   "encoding":{"x":{"field":"nm","type":"quantitative"},"y":{"field":"bottom","type":"quantitative"}}}
 ]
}
]
}
